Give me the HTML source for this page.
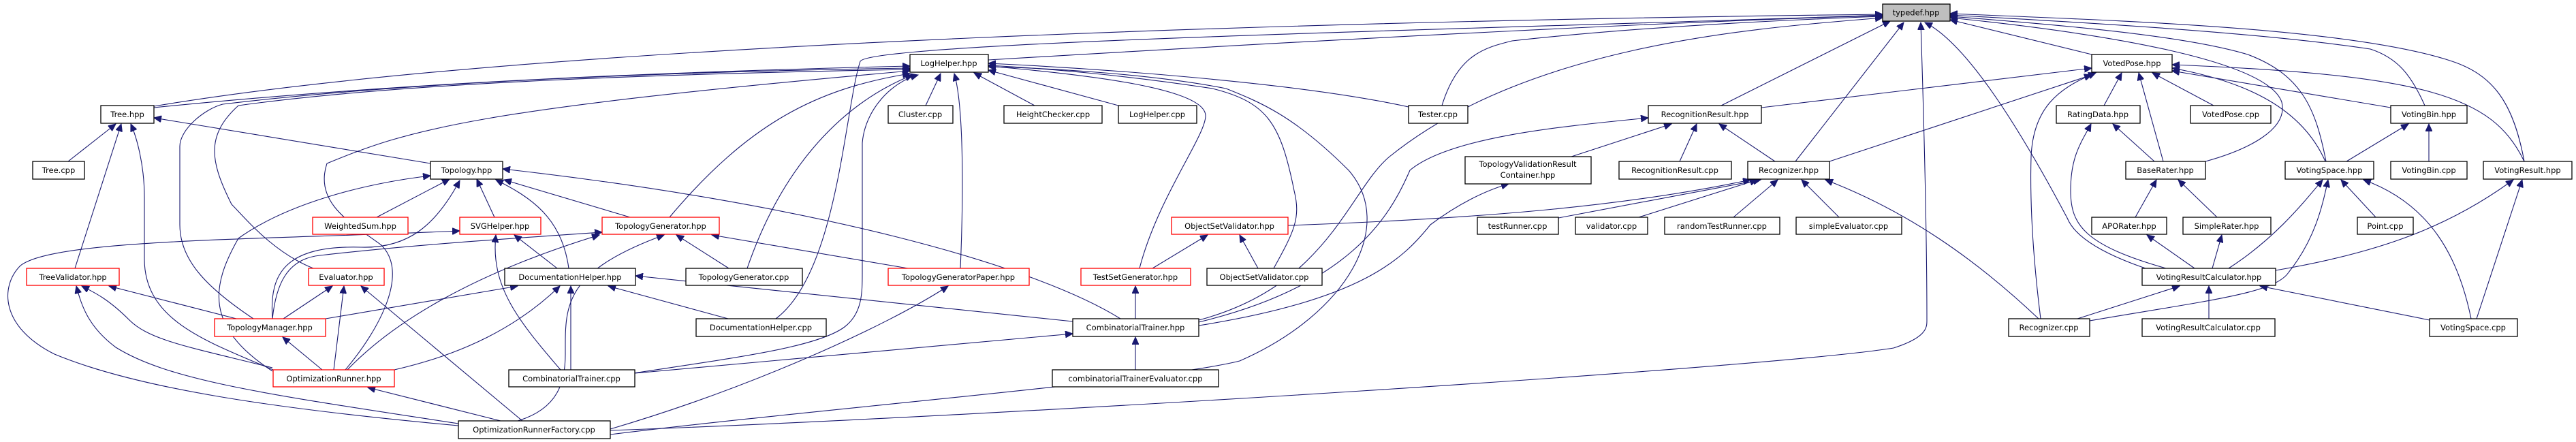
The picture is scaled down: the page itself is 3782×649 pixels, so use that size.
<!DOCTYPE html>
<html><head><meta charset="utf-8"><style>
html,body{margin:0;padding:0;background:#fff;}
svg{display:block;}
text{font-family:"DejaVu Sans","Liberation Sans",sans-serif;font-size:11.5px;fill:#000;text-anchor:middle;}
.n{fill:#fff;stroke:#000;stroke-width:1.3;}
.r{fill:#fff;stroke:#f00;stroke-width:1.3;}
.e{fill:none;stroke:#191970;stroke-width:1.1;marker-end:url(#a);}
</style></head><body>
<svg width="3782" height="649" viewBox="0 0 3782 649" xmlns="http://www.w3.org/2000/svg">
<defs><marker id="a" markerUnits="userSpaceOnUse" markerWidth="12" markerHeight="10" refX="11" refY="5" orient="auto"><path d="M0,0 L11,5 L0,10 z" fill="#191970" stroke="#191970"/></marker></defs>
<g>
<path class="e" d="M226,156 C800,60 2000,30 2764,21"/>
<path class="e" d="M1451,88 C2000,55 2500,30 2764,23"/>
<path class="e" d="M1139,468 C1230,400 1240,160 1263,90 C1280,60 2300,40 2764,22"/>
<path class="e" d="M2117,155 C2140,80 2180,70 2220,60 C2400,40 2600,30 2764,24"/>
<path class="e" d="M1760,470 C1950,420 1980,280 2040,230 C2250,60 2600,40 2764,26"/>
<path class="e" d="M2527,155 L2775,31"/>
<path class="e" d="M2636,237 L2795,33"/>
<path class="e" d="M896,632 C1500,610 2600,540 2780,511 C2830,495 2829,480 2829,470 C2829,300 2822,100 2820,33"/>
<path class="e" d="M3150,394 C3080,370 3045,345 3035,320 C2950,160 2880,60 2826,33"/>
<path class="e" d="M3071,80 L2863,29"/>
<path class="e" d="M3238,237 C3300,220 3360,190 3350,150 C3330,90 3100,50 2863,26"/>
<path class="e" d="M3415,237 C3400,160 3380,110 3300,80 C3200,50 3000,35 2863,24"/>
<path class="e" d="M3560,155 C3540,110 3520,85 3480,72 C3300,45 3000,30 2863,22"/>
<path class="e" d="M3706,237 C3690,150 3660,110 3600,90 C3450,40 3100,30 2863,20"/>
<path class="e" d="M226,158 C600,120 1000,105 1336,97"/>
<path class="e" d="M372,468 C300,420 264,380 264,330 L264,215 C264,190 300,160 327,153 C600,120 1000,105 1336,100"/>
<path class="e" d="M460,394 C400,370 360,320 340,300 C310,240 300,200 350,155 C600,120 1000,108 1336,102"/>
<path class="e" d="M983,319 C1100,180 1200,130 1336,108"/>
<path class="e" d="M1097,394 C1150,240 1240,150 1340,110"/>
<path class="e" d="M930,548 C1080,525 1200,510 1240,480 C1266,460 1266,430 1266,400 L1266,210 C1270,160 1310,120 1348,110"/>
<path class="e" d="M507,543 C560,480 600,400 560,360 C520,330 460,300 480,240 C600,190 700,160 1336,104"/>
<path class="e" d="M1359,155 L1381,108"/>
<path class="e" d="M1410,394 C1414,300 1416,160 1401,108"/>
<path class="e" d="M1519,155 L1430,107"/>
<path class="e" d="M1642,155 L1451,103"/>
<path class="e" d="M1673,394 C1700,290 1770,200 1770,170 C1770,130 1600,110 1451,97"/>
<path class="e" d="M1870,394 C1900,340 1910,320 1900,280 C1880,180 1860,150 1780,130 C1650,110 1530,100 1451,96"/>
<path class="e" d="M2068,157 C1900,120 1600,100 1451,93"/>
<path class="e" d="M896,638 C1200,600 1700,560 1820,530 C1980,460 2050,330 1980,250 C1900,170 1850,150 1800,130 C1700,110 1550,100 1451,98"/>
<path class="e" d="M100,237 L170,182"/>
<path class="e" d="M110,394 L178,182"/>
<path class="e" d="M401,543 C300,500 212,470 212,380 L212,290 C212,240 200,200 192,182"/>
<path class="e" d="M632,240 L226,173"/>
<path class="e" d="M553,319 L660,263"/>
<path class="e" d="M726,319 L700,263"/>
<path class="e" d="M925,319 L740,264"/>
<path class="e" d="M835,394 C825,320 780,290 728,264"/>
<path class="e" d="M400,468 C395,400 420,360 530,363 C600,365 640,330 675,265"/>
<path class="e" d="M400,545 C300,480 310,420 350,350 C420,300 530,270 632,258"/>
<path class="e" d="M1645,468 C1520,390 1200,300 738,248"/>
<path class="e" d="M1070,394 L993,345"/>
<path class="e" d="M1333,394 L1045,345"/>
<path class="e" d="M400,468 C405,420 420,380 470,375 C600,360 750,350 884,341"/>
<path class="e" d="M510,543 C580,470 700,400 880,345"/>
<path class="e" d="M760,618 C820,600 830,560 830,520 C830,450 825,400 975,345"/>
<path class="e" d="M673,625 C400,600 200,570 80,520 C0,480 0,420 30,390 C80,350 400,352 675,339"/>
<path class="e" d="M818,394 L755,345"/>
<path class="e" d="M823,543 C760,470 720,420 728,345"/>
<path class="e" d="M896,630 C1100,570 1300,480 1392,420"/>
<path class="e" d="M416,468 L488,420"/>
<path class="e" d="M490,543 L505,420"/>
<path class="e" d="M767,618 L530,420"/>
<path class="e" d="M478,468 L760,420"/>
<path class="e" d="M579,543 C680,520 760,480 822,420"/>
<path class="e" d="M838,543 L838,420"/>
<path class="e" d="M1069,468 L893,420"/>
<path class="e" d="M1575,472 L933,405"/>
<path class="e" d="M347,468 L160,420"/>
<path class="e" d="M400,540 C280,510 220,500 190,470 C160,440 140,430 120,420"/>
<path class="e" d="M673,622 C400,580 250,560 170,510 C130,480 120,450 112,420"/>
<path class="e" d="M473,543 L415,495"/>
<path class="e" d="M735,618 L540,569"/>
<path class="e" d="M1667,543 L1667,495"/>
<path class="e" d="M932,548 L1575,490"/>
<path class="e" d="M1667,468 L1667,420"/>
<path class="e" d="M1692,394 L1773,345"/>
<path class="e" d="M1847,394 L1820,345"/>
<path class="e" d="M2307,230 L2454,182"/>
<path class="e" d="M2466,237 L2491,182"/>
<path class="e" d="M2606,237 L2524,182"/>
<path class="e" d="M1760,473 C1980,420 2040,320 2070,250 C2130,200 2300,185 2420,173"/>
<path class="e" d="M1760,478 C2000,440 2060,380 2100,330 C2140,300 2180,280 2215,270"/>
<path class="e" d="M2288,320 L2585,264"/>
<path class="e" d="M2406,319 L2580,264"/>
<path class="e" d="M2545,319 L2610,264"/>
<path class="e" d="M2700,319 L2645,264"/>
<path class="e" d="M1891,331 C2200,320 2400,300 2570,264"/>
<path class="e" d="M2993,468 C2900,380 2800,310 2680,264"/>
<path class="e" d="M2586,158 L3071,100"/>
<path class="e" d="M2686,237 L3071,110"/>
<path class="e" d="M3089,155 L3115,107"/>
<path class="e" d="M3176,237 L3140,107"/>
<path class="e" d="M3250,155 L3160,107"/>
<path class="e" d="M3510,158 L3189,104"/>
<path class="e" d="M3414,237 C3380,160 3300,120 3189,100"/>
<path class="e" d="M3706,237 C3660,140 3560,110 3189,95"/>
<path class="e" d="M2996,468 C2985,380 2980,300 2982,230 C2985,160 3020,130 3077,107"/>
<path class="e" d="M3163,237 L3102,182"/>
<path class="e" d="M3180,394 C3060,360 3040,330 3040,280 C3040,230 3055,210 3070,182"/>
<path class="e" d="M3135,319 L3166,264"/>
<path class="e" d="M3255,319 L3198,264"/>
<path class="e" d="M3222,394 L3152,345"/>
<path class="e" d="M3248,394 L3262,345"/>
<path class="e" d="M3445,237 L3536,182"/>
<path class="e" d="M3566,237 L3566,182"/>
<path class="e" d="M3272,394 C3340,350 3380,300 3410,264"/>
<path class="e" d="M3488,319 L3437,264"/>
<path class="e" d="M3628,468 C3610,380 3570,300 3470,264"/>
<path class="e" d="M3068,471 C3250,440 3340,430 3360,400 C3400,350 3410,300 3418,264"/>
<path class="e" d="M3341,397 C3500,370 3600,330 3690,264"/>
<path class="e" d="M3636,468 L3703,264"/>
<path class="e" d="M3050,468 L3200,420"/>
<path class="e" d="M3243,468 L3243,420"/>
<path class="e" d="M3567,470 L3318,420"/>
</g>
<g>
<rect x="2764" y="6" width="99" height="25" fill="#bfbfbf" stroke="#000" stroke-width="1.3"/><text x="2813" y="22.5">typedef.hpp</text>
<rect class="n" x="1336" y="80" width="115" height="26"/><text x="1393" y="97">LogHelper.hpp</text>
<rect class="n" x="3071" y="80" width="118" height="26"/><text x="3130" y="97">VotedPose.hpp</text>
<rect class="n" x="148" y="155" width="78" height="26"/><text x="187" y="172">Tree.hpp</text>
<rect class="n" x="1304" y="155" width="95" height="26"/><text x="1351" y="172">Cluster.cpp</text>
<rect class="n" x="1474" y="155" width="144" height="26"/><text x="1546" y="172">HeightChecker.cpp</text>
<rect class="n" x="1642" y="155" width="115" height="26"/><text x="1699" y="172">LogHelper.cpp</text>
<rect class="n" x="2068" y="155" width="87" height="26"/><text x="2111" y="172">Tester.cpp</text>
<rect class="n" x="2420" y="155" width="166" height="26"/><text x="2503" y="172">RecognitionResult.hpp</text>
<rect class="n" x="3019" y="155" width="123" height="26"/><text x="3080" y="172">RatingData.hpp</text>
<rect class="n" x="3216" y="155" width="118" height="26"/><text x="3275" y="172">VotedPose.cpp</text>
<rect class="n" x="3510" y="155" width="112" height="26"/><text x="3566" y="172">VotingBin.hpp</text>
<rect class="n" x="48" y="237" width="76" height="26"/><text x="86" y="254">Tree.cpp</text>
<rect class="n" x="632" y="237" width="106" height="26"/><text x="685" y="254">Topology.hpp</text>
<rect class="n" x="2151" y="230" width="185" height="40"/><text x="2243" y="245">TopologyValidationResult</text><text x="2243" y="261">Container.hpp</text>
<rect class="n" x="2377" y="237" width="165" height="26"/><text x="2459" y="254">RecognitionResult.cpp</text>
<rect class="n" x="2566" y="237" width="120" height="26"/><text x="2626" y="254">Recognizer.hpp</text>
<rect class="n" x="3121" y="237" width="117" height="26"/><text x="3179" y="254">BaseRater.hpp</text>
<rect class="n" x="3355" y="237" width="130" height="26"/><text x="3420" y="254">VotingSpace.hpp</text>
<rect class="n" x="3510" y="237" width="112" height="26"/><text x="3566" y="254">VotingBin.cpp</text>
<rect class="n" x="3646" y="237" width="130" height="26"/><text x="3711" y="254">VotingResult.hpp</text>
<rect class="r" x="459" y="319" width="140" height="25"/><text x="529" y="336">WeightedSum.hpp</text>
<rect class="r" x="675" y="319" width="119" height="25"/><text x="734" y="336">SVGHelper.hpp</text>
<rect class="r" x="884" y="319" width="172" height="25"/><text x="970" y="336">TopologyGenerator.hpp</text>
<rect class="r" x="1720" y="319" width="171" height="25"/><text x="1805" y="336">ObjectSetValidator.hpp</text>
<rect class="n" x="2169" y="319" width="119" height="25"/><text x="2228" y="336">testRunner.cpp</text>
<rect class="n" x="2313" y="319" width="106" height="25"/><text x="2366" y="336">validator.cpp</text>
<rect class="n" x="2444" y="319" width="169" height="25"/><text x="2528" y="336">randomTestRunner.cpp</text>
<rect class="n" x="2637" y="319" width="155" height="25"/><text x="2714" y="336">simpleEvaluator.cpp</text>
<rect class="n" x="3071" y="319" width="110" height="25"/><text x="3126" y="336">APORater.hpp</text>
<rect class="n" x="3205" y="319" width="129" height="25"/><text x="3269" y="336">SimpleRater.hpp</text>
<rect class="n" x="3461" y="319" width="82" height="25"/><text x="3502" y="336">Point.cpp</text>
<rect class="r" x="39" y="394" width="136" height="25"/><text x="107" y="411">TreeValidator.hpp</text>
<rect class="r" x="453" y="394" width="111" height="25"/><text x="508" y="411">Evaluator.hpp</text>
<rect class="n" x="741" y="394" width="192" height="25"/><text x="837" y="411">DocumentationHelper.hpp</text>
<rect class="n" x="1007" y="394" width="171" height="25"/><text x="1092" y="411">TopologyGenerator.cpp</text>
<rect class="r" x="1304" y="394" width="207" height="25"/><text x="1407" y="411">TopologyGeneratorPaper.hpp</text>
<rect class="r" x="1587" y="394" width="161" height="25"/><text x="1667" y="411">TestSetGenerator.hpp</text>
<rect class="n" x="1772" y="394" width="169" height="25"/><text x="1856" y="411">ObjectSetValidator.cpp</text>
<rect class="n" x="3145" y="394" width="196" height="25"/><text x="3243" y="411">VotingResultCalculator.hpp</text>
<rect class="r" x="315" y="468" width="163" height="26"/><text x="396" y="485">TopologyManager.hpp</text>
<rect class="n" x="1022" y="468" width="191" height="26"/><text x="1117" y="485">DocumentationHelper.cpp</text>
<rect class="n" x="1575" y="468" width="185" height="26"/><text x="1667" y="485">CombinatorialTrainer.hpp</text>
<rect class="n" x="2949" y="468" width="119" height="26"/><text x="3008" y="485">Recognizer.cpp</text>
<rect class="n" x="3145" y="468" width="195" height="26"/><text x="3242" y="485">VotingResultCalculator.cpp</text>
<rect class="n" x="3567" y="468" width="129" height="26"/><text x="3631" y="485">VotingSpace.cpp</text>
<rect class="r" x="401" y="543" width="178" height="25"/><text x="490" y="560">OptimizationRunner.hpp</text>
<rect class="n" x="747" y="543" width="185" height="25"/><text x="839" y="560">CombinatorialTrainer.cpp</text>
<rect class="n" x="1545" y="543" width="244" height="25"/><text x="1667" y="560">combinatorialTrainerEvaluator.cpp</text>
<rect class="n" x="673" y="618" width="223" height="26"/><text x="784" y="635">OptimizationRunnerFactory.cpp</text>
</g>
</svg>
</body></html>
